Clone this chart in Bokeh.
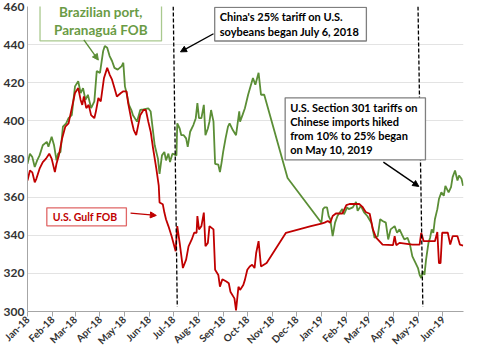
import math
import pandas as pd
from bokeh.plotting import figure
from bokeh.models import (Range1d, DatetimeTickFormatter, MonthsTicker, FixedTicker,
                          Label, Arrow, NormalHead)
from bokeh.embed import file_html
from bokeh.resources import INLINE

# ---------------- data ----------------
brazil_dates = [
    "2018-01-01", "2018-01-04", "2018-01-07", "2018-01-10", "2018-01-13", "2018-01-16",
    "2018-01-20", "2018-01-25", "2018-01-27", "2018-01-31", "2018-02-03", "2018-02-06",
    "2018-02-08", "2018-02-11", "2018-02-14", "2018-02-18", "2018-02-21", "2018-02-25",
    "2018-03-01", "2018-03-05", "2018-03-08", "2018-03-11", "2018-03-14", "2018-03-17",
    "2018-03-21", "2018-03-25", "2018-03-28", "2018-04-01", "2018-04-05", "2018-04-07",
    "2018-04-10", "2018-04-13", "2018-04-16", "2018-04-19", "2018-04-23", "2018-04-28",
    "2018-04-30", "2018-05-02", "2018-05-04", "2018-05-07", "2018-05-10", "2018-05-12",
    "2018-05-17", "2018-05-21", "2018-05-25", "2018-05-31", "2018-06-03", "2018-06-05",
    "2018-06-08", "2018-06-10", "2018-06-12", "2018-06-14", "2018-06-17", "2018-06-20",
    "2018-06-22", "2018-06-25", "2018-06-27", "2018-06-30", "2018-07-05", "2018-07-06",
    "2018-07-09", "2018-07-11", "2018-07-14", "2018-07-17", "2018-07-19", "2018-07-22",
    "2018-07-26", "2018-07-29", "2018-07-31", "2018-08-02", "2018-08-05", "2018-08-08",
    "2018-08-10", "2018-08-13", "2018-08-15", "2018-08-17", "2018-08-20", "2018-08-22",
    "2018-08-26", "2018-08-28", "2018-08-30", "2018-09-01", "2018-09-04", "2018-09-07",
    "2018-09-09", "2018-09-13", "2018-09-17", "2018-09-21", "2018-09-22", "2018-09-25",
    "2018-09-28", "2018-10-02", "2018-10-08", "2018-10-11", "2018-10-15", "2018-10-18",
    "2018-10-22", "2018-11-20", "2019-01-01", "2019-01-03", "2019-01-05", "2019-01-08",
    "2019-01-10", "2019-01-12", "2019-01-15", "2019-01-18", "2019-01-21", "2019-01-24",
    "2019-01-27", "2019-01-29", "2019-02-02", "2019-02-04", "2019-02-09", "2019-02-13",
    "2019-02-15", "2019-02-19", "2019-02-23", "2019-02-27", "2019-03-04", "2019-03-08",
    "2019-03-12", "2019-03-15", "2019-03-18", "2019-03-22", "2019-03-25", "2019-03-28",
    "2019-04-02", "2019-04-05", "2019-04-08", "2019-04-11", "2019-04-14", "2019-04-18",
    "2019-04-21", "2019-04-24", "2019-04-27", "2019-05-01", "2019-05-03", "2019-05-05",
    "2019-05-07", "2019-05-09", "2019-05-11", "2019-05-14", "2019-05-16", "2019-05-18",
    "2019-05-20", "2019-05-22", "2019-05-25", "2019-05-27", "2019-05-30", "2019-06-02",
    "2019-06-04", "2019-06-08", "2019-06-11", "2019-06-13", "2019-06-16", "2019-06-19",
    "2019-06-21", "2019-06-24", "2019-06-26",
]
brazil_values = [
    377.5, 382.8, 381.0, 375.8, 379.3, 381.9,
    387.2, 389.0, 386.4, 391.7, 387.2, 379.3,
    382.8, 383.7, 397.0, 398.7, 401.4, 403.0,
    418.1, 420.8, 414.6, 417.2, 411.0, 413.7,
    406.7, 410.2, 426.1, 425.2, 436.7, 439.3,
    438.4, 434.0, 431.4, 427.8, 426.9, 428.7,
    430.5, 418.1, 414.6, 408.4, 405.7, 403.0,
    399.6, 405.7, 406.0, 406.6, 404.9, 397.8,
    387.2, 383.7, 380.2, 372.2, 381.9, 383.7,
    379.3, 382.8, 378.4, 382.8, 381.9, 398.7,
    396.0, 392.5, 392.5, 390.8, 386.4, 394.3,
    397.8, 401.4, 409.3, 401.4, 401.4, 408.4,
    392.5, 396.0, 399.6, 405.7, 399.6, 377.5,
    377.0, 373.1, 378.0, 383.7, 390.8, 397.0,
    398.7, 395.2, 392.5, 405.0, 399.6, 403.0,
    406.6, 413.7, 422.5, 419.0, 425.2, 413.7,
    413.7, 370.0, 346.6, 353.7, 354.6, 354.6,
    350.1, 348.4, 339.5, 346.6, 350.1, 352.0,
    353.7, 351.0, 354.6, 353.7, 354.6, 357.5,
    352.8, 355.4, 352.0, 350.1, 346.6, 338.7,
    339.5, 348.4, 347.5, 346.6, 337.8, 343.1,
    344.8, 341.3, 343.1, 340.4, 337.8, 338.7,
    335.1, 328.9, 326.3, 322.8, 319.2, 317.5,
    321.0, 319.2, 327.2, 336.0, 338.7, 343.1,
    341.3, 348.4, 353.7, 359.0, 362.5, 360.7,
    365.9, 362.5, 365.2, 370.5, 374.0, 368.7,
    371.3, 369.6, 366.0,
]

gulf_dates = [
    "2018-01-01", "2018-01-04", "2018-01-07", "2018-01-10", "2018-01-12", "2018-01-16",
    "2018-01-20", "2018-01-24", "2018-01-28", "2018-01-31", "2018-02-04", "2018-02-06",
    "2018-02-09", "2018-02-13", "2018-02-17", "2018-02-21", "2018-02-25", "2018-03-01",
    "2018-03-05", "2018-03-08", "2018-03-10", "2018-03-12", "2018-03-15", "2018-03-18",
    "2018-03-21", "2018-03-25", "2018-03-27", "2018-03-30", "2018-04-02", "2018-04-06",
    "2018-04-10", "2018-04-13", "2018-04-16", "2018-04-19", "2018-04-22", "2018-04-27",
    "2018-04-30", "2018-05-04", "2018-05-06", "2018-05-10", "2018-05-13", "2018-05-16",
    "2018-05-21", "2018-05-25", "2018-05-28", "2018-05-31", "2018-06-03", "2018-06-06",
    "2018-06-10", "2018-06-13", "2018-06-14", "2018-06-18", "2018-06-20", "2018-06-22",
    "2018-06-25", "2018-06-29", "2018-07-04", "2018-07-06", "2018-07-09", "2018-07-13",
    "2018-07-17", "2018-07-20", "2018-07-24", "2018-07-27", "2018-07-30", "2018-07-31",
    "2018-08-02", "2018-08-05", "2018-08-08", "2018-08-10", "2018-08-13", "2018-08-15",
    "2018-08-20", "2018-08-22", "2018-08-26", "2018-08-28", "2018-08-31", "2018-09-05",
    "2018-09-08", "2018-09-10", "2018-09-15", "2018-09-17", "2018-09-20", "2018-09-22",
    "2018-09-26", "2018-09-28", "2018-10-01", "2018-10-04", "2018-10-07", "2018-10-10",
    "2018-10-12", "2018-10-15", "2018-10-18", "2018-10-25", "2018-11-18", "2018-12-19",
    "2019-01-01", "2019-01-05", "2019-01-09", "2019-01-12", "2019-01-15", "2019-01-19",
    "2019-01-27", "2019-02-01", "2019-02-05", "2019-02-17", "2019-02-21", "2019-02-25",
    "2019-03-02", "2019-03-06", "2019-03-10", "2019-03-14", "2019-03-18", "2019-03-31",
    "2019-04-02", "2019-04-04", "2019-04-08", "2019-04-24", "2019-05-03", "2019-05-05",
    "2019-05-08", "2019-05-22", "2019-05-25", "2019-05-27", "2019-05-29", "2019-05-31",
    "2019-06-07", "2019-06-10", "2019-06-13", "2019-06-19", "2019-06-22", "2019-06-26",
]
gulf_values = [
    368.7, 374.0, 373.0, 367.8, 369.6, 374.9,
    378.4, 380.2, 382.8, 380.2, 373.1, 377.5,
    382.0, 390.8, 397.0, 398.7, 406.7, 414.6,
    417.2, 411.0, 408.4, 412.8, 406.7, 408.4,
    403.0, 401.4, 405.0, 412.0, 410.2, 422.5,
    427.8, 424.3, 421.6, 417.2, 412.8, 414.6,
    415.5, 415.5, 409.3, 400.5, 395.2, 392.5,
    403.0, 405.7, 405.7, 399.6, 394.3, 385.5,
    374.9, 366.0, 357.2, 356.3, 351.9, 348.4,
    344.8, 339.5, 331.6, 344.8, 336.0, 322.8,
    327.2, 334.2, 337.8, 341.3, 341.3, 350.1,
    343.1, 344.8, 351.9, 334.2, 336.0, 344.8,
    343.1, 321.9, 319.2, 313.0, 316.9, 315.7,
    314.8, 310.4, 306.9, 300.6, 313.0, 311.3,
    313.9, 316.6, 321.9, 323.6, 324.5, 322.8,
    330.7, 336.9, 323.6, 325.4, 341.3, 344.8,
    346.1, 346.6, 347.5, 346.6, 350.1, 351.4,
    351.4, 355.8, 356.4, 356.4, 354.9, 352.2,
    351.3, 343.1, 338.7, 336.9, 335.1, 334.8,
    339.5, 334.8, 336.0, 335.1, 335.1, 341.3,
    336.9, 336.9, 341.7, 325.4, 325.4, 341.3,
    341.3, 335.1, 339.5, 339.5, 335.1, 334.6,
]

x_start, x_end = "2018-01-01", "2019-06-26 12:00"
y_ticks = [300, 320, 340, 360, 380, 400, 420, 440, 460]

# policy event dashed lines (top date/value -> bottom date/value)
event_top_dates = ["2018-07-01", "2019-05-01"]
event_bottom_dates = ["2018-07-06", "2019-05-07"]
event_top_values = [460.0, 460.0]
event_bottom_values = [302.5, 302.5]

brazil_label = "Brazilian port,\nParanaguá FOB"
gulf_label = "U.S. Gulf FOB"
china_label = "China's 25% tariff on U.S.\nsoybeans began July 6, 2018"
s301_label = ("U.S. Section 301 tariffs on\nChinese imports hiked\n"
              "from 10% to 25% began\non May 10, 2019")

GREEN = "#5B8E36"
GREEN_TXT = "#6A9B45"
RED = "#C00000"
FONT = "Lato"


def ms(s):
    return pd.Timestamp(s).value / 1e6


p = figure(width=464, height=353, x_axis_type="datetime",
           x_range=Range1d(ms(x_start), ms(x_end)), y_range=Range1d(300, 460),
           output_backend="svg", toolbar_location=None,
           min_border_left=26, min_border_right=1, min_border_top=6, min_border_bottom=42)
p.outline_line_color = None
p.background_fill_color = "white"

# grid / axes
p.xgrid.grid_line_color = None
p.ygrid.grid_line_color = "#E3E3E3"
p.ygrid.ticker = FixedTicker(ticks=y_ticks)
p.yaxis.ticker = FixedTicker(ticks=y_ticks)
p.xaxis.ticker = MonthsTicker(months=list(range(12)))
p.xaxis.formatter = DatetimeTickFormatter(months="%b-%y", days="%b-%y", years="%b-%y")
p.xaxis.major_label_orientation = math.pi / 4
for ax in (p.xaxis[0], p.yaxis[0]):
    ax.axis_line_color = "#A6A6A6"
    ax.major_tick_line_color = "#A6A6A6"
    ax.minor_tick_line_color = None
    ax.major_label_text_font = FONT
    ax.major_label_text_font_style = "bold"
    ax.major_label_text_color = "#333333"
p.yaxis.major_tick_out = 0
p.yaxis.major_tick_in = 0
p.yaxis.major_label_standoff = 3
p.yaxis.major_label_text_font_size = "12px"
p.xaxis.major_tick_out = 5
p.xaxis.major_tick_in = 0
p.xaxis.major_label_standoff = 1
p.xaxis.major_label_text_font_size = "10px"

# series
p.line(pd.to_datetime(brazil_dates), brazil_values, line_color=GREEN, line_width=1.8)
p.line(pd.to_datetime(gulf_dates), gulf_values, line_color=RED, line_width=1.8)

# event lines
p.segment(x0=pd.to_datetime(event_top_dates), y0=event_top_values,
          x1=pd.to_datetime(event_bottom_dates), y1=event_bottom_values,
          line_color="black", line_width=1.3, line_dash="4 2")


def boxed(text, x, y, align, color, border, size, lh, pad):
    return Label(x=ms(x), y=y, text=text, text_align=align, text_baseline="top",
                 text_font=FONT, text_font_style="bold", text_font_size=size,
                 text_color=color, text_line_height=lh,
                 background_fill_color="white", background_fill_alpha=1.0,
                 border_line_color=border, border_line_width=1.3,
                 padding=dict(left=pad[0], right=pad[1], top=pad[2], bottom=pad[3]))


p.add_layout(boxed(brazil_label, "2018-04-02", 462.7, "center", GREEN_TXT, "#A9C98E",
                   "13.5px", 1.1, (14, 14, 3, 3)))
p.add_layout(boxed(china_label, "2018-08-21 12:00", 459.5, "left", "black", "#7F7F7F",
                   "11px", 1.12, (5, 7, 3, 3)))
p.add_layout(boxed(s301_label, "2018-11-17", 412.1, "left", "black", "#7F7F7F",
                   "11px", 1.08, (5, 8, 3, 4)))
p.add_layout(boxed(gulf_label, "2018-01-25", 354.4, "left", RED, "#E06666",
                   "10.5px", 1.0, (6, 9, 3, 3)))

# arrows
arrows = [
    ("2018-03-12", 442.5, "2018-03-30", 431.9, GREEN),
    ("2018-08-20", 445.7, "2018-07-10", 436.2, "black"),
    ("2019-03-19", 378.4, "2019-05-02", 365.6, "black"),
    ("2018-05-09", 351.6, "2018-06-10", 350.4, RED),
]
for xs, ys, xe, ye, c in arrows:
    p.add_layout(Arrow(x_start=ms(xs), y_start=ys, x_end=ms(xe), y_end=ye, line_color=c,
                       line_width=1.4,
                       end=NormalHead(size=6, line_color=c, fill_color=c, line_width=1)))

open("out.html", "w").write(file_html(p, INLINE))
